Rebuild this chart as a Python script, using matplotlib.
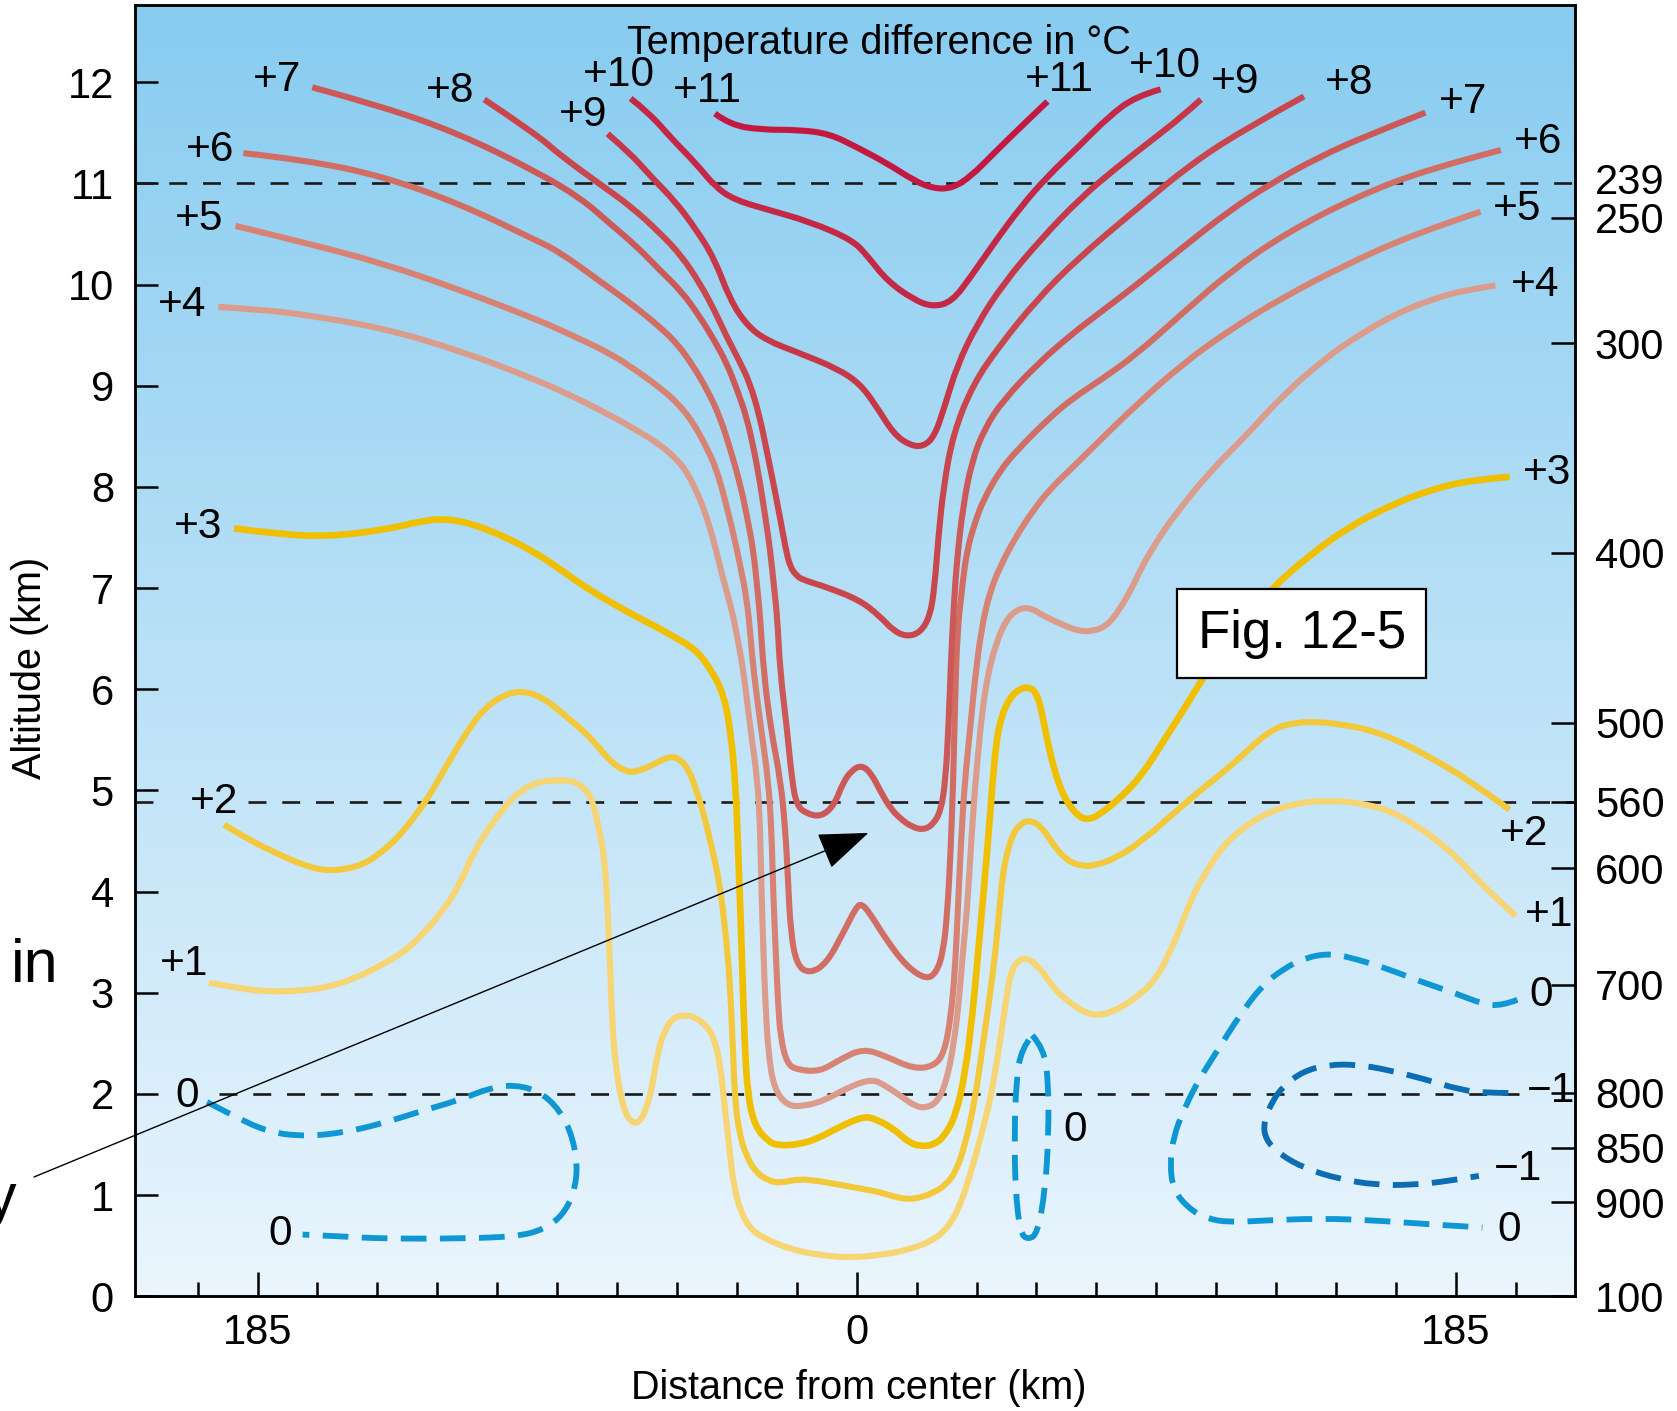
import numpy as np
import matplotlib
matplotlib.use("Agg")
import matplotlib.pyplot as plt
from matplotlib.colors import LinearSegmentedColormap
from matplotlib.patches import Rectangle, PathPatch
from matplotlib.path import Path

plt.rcParams['font.family'] = ['Liberation Sans', 'DejaVu Sans']

# ---------------- isotherms: (distance from center km, altitude km) ----------------
iso_p11 = [(-43.8, 11.69), (-39.1, 11.58), (-29.6, 11.53), (-17.8, 11.53), (-8.4, 11.49), (-0.1, 11.36),
           (9.3, 11.20), (17.6, 11.03), (23.5, 10.95), (29.4, 10.95), (35.3, 11.07), (42.4, 11.30),
           (50.7, 11.56), (58.9, 11.81)]

iso_p10 = [(-69.8, 11.84), (-63.9, 11.69), (-56.8, 11.43), (-49.7, 11.20), (-43.8, 10.97), (-37.9, 10.84),
           (-28.5, 10.75), (-14.3, 10.62), (-1.3, 10.44), (3.4, 10.28), (9.3, 10.04), (17.6, 9.85),
           (23.5, 9.78), (29.4, 9.83), (35.3, 10.08), (42.4, 10.41), (50.7, 10.77), (58.9, 11.07),
           (68.4, 11.36), (77.8, 11.66), (86.1, 11.86), (93.8, 11.93)]

iso_p9 = [(-76.9, 11.49), (-70, 11.3), (-63.9, 11.08), (-56, 10.82), (-49.7, 10.55), (-44, 10.26),
          (-39.1, 9.85), (-34, 9.6), (-28, 9.45), (-17.5, 9.32), (-6, 9.17), (1, 9.02), (6, 8.8),
          (11.5, 8.52), (16.5, 8.41), (20.6, 8.40), (24, 8.5), (27, 8.78), (31, 9.2), (37, 9.6),
          (45.3, 10.01), (56.6, 10.44), (68.9, 10.85), (80, 11.15), (92, 11.45), (100, 11.65), (106.3, 11.83)]

iso_p8 = [(-115.0, 11.83), (-99.1, 11.49), (-91.6, 11.28), (-79.2, 10.99), (-70, 10.78), (-60.7, 10.51),
          (-54, 10.28), (-48.4, 10.01), (-44, 9.75), (-40.1, 9.48), (-36.3, 9.25), (-32.9, 9.02),
          (-30, 8.7), (-27.8, 8.36), (-25.7, 8.03), (-23.7, 7.70), (-22, 7.4), (-20.6, 7.21),
          (-18.5, 7.12), (-16.5, 7.08), (-9.3, 7.01), (1.0, 6.88), (7.2, 6.72), (11.3, 6.58),
          (15.4, 6.52), (19.6, 6.56), (22.6, 6.72), (24, 7.0), (25.2, 7.5), (26.8, 8.0), (29.8, 8.53),
          (36.0, 9.02), (44.2, 9.4), (55.6, 9.85), (68, 10.25), (86.5, 10.75), (103.5, 11.2),
          (120.5, 11.55), (138.1, 11.86)]

iso_p7 = [(-168.1, 11.95), (-146.3, 11.76), (-122.7, 11.49), (-99.1, 11.12), (-85, 10.85), (-76.1, 10.6),
          (-68, 10.38), (-60.7, 10.14), (-54, 9.93), (-48.4, 9.68), (-44, 9.45), (-40.1, 9.22),
          (-36.8, 8.95), (-34, 8.69), (-31.6, 8.35), (-29.8, 8.03), (-28.2, 7.7), (-26.7, 7.37),
          (-25.5, 7.0), (-24.5, 6.7), (-23.7, 6.19), (-21.5, 5.6), (-20, 5.1), (-18.5, 4.85),
          (-15.5, 4.77), (-11, 4.74), (-7, 4.85), (-4.2, 5.08), (-1.5, 5.2), (1.5, 5.25), (4.5, 5.17),
          (7.5, 4.98), (10.5, 4.82), (13.5, 4.72), (17, 4.64), (20.5, 4.61), (23.5, 4.66), (26.0, 4.8),
          (27.4, 5.1), (28.3, 5.6), (29.0, 6.2), (29.9, 6.8), (31, 7.3), (32.8, 7.8), (35.5, 8.25),
          (39.5, 8.58), (45.3, 8.86), (56, 9.22), (66, 9.5), (75, 9.72), (86.5, 10.0), (100, 10.35),
          (115, 10.73), (128, 11.0), (142, 11.25), (158, 11.48), (175.6, 11.70)]

iso_p6 = [(-189.4, 11.30), (-169.9, 11.23), (-146.3, 11.07), (-122.7, 10.80), (-99.1, 10.44),
          (-91.6, 10.32), (-79.2, 10.03), (-70, 9.82), (-60.7, 9.58), (-55, 9.40), (-50.4, 9.19),
          (-46, 8.95), (-42.2, 8.69), (-39, 8.37), (-36.0, 8.03), (-33.8, 7.7), (-31.9, 7.37),
          (-30.7, 7.0), (-29.8, 6.71), (-28.8, 6.19), (-26.5, 5.6), (-23.5, 5.1), (-22, 4.6),
          (-21.2, 4.1), (-20.4, 3.6), (-18.5, 3.27), (-14.5, 3.19), (-9.3, 3.29), (-4.2, 3.59),
          (-0.1, 3.85), (1.5, 3.88), (4.0, 3.79), (9.2, 3.52), (15.4, 3.26), (21.5, 3.13), (24.6, 3.2),
          (26.7, 3.4), (28.0, 3.8), (29.0, 4.4), (29.8, 5.1), (30.3, 5.8), (31.0, 6.55), (32.5, 7.0),
          (34.0, 7.37), (36.5, 7.65), (39.1, 7.87), (44, 8.15), (49.4, 8.36), (59.7, 8.69), (66.9, 8.88),
          (75, 9.05), (86, 9.3), (100, 9.7), (115, 10.12), (132, 10.5), (155, 10.88), (177.3, 11.15),
          (198.9, 11.33)]

iso_p5 = [(-191.8, 10.58), (-169.9, 10.41), (-146.3, 10.21), (-122.7, 9.95), (-99.1, 9.66), (-88, 9.5),
          (-76.1, 9.32), (-68, 9.15), (-60.7, 8.98), (-55, 8.82), (-50.4, 8.63), (-46.5, 8.4),
          (-43.2, 8.17), (-40.5, 7.85), (-38.1, 7.54), (-35.8, 7.2), (-33.9, 6.88), (-32.7, 6.5),
          (-31.9, 6.19), (-29.5, 5.6), (-27.3, 5.1), (-26.3, 4.6), (-25.8, 4.0), (-25.0, 3.4),
          (-24.3, 2.9), (-23.5, 2.55), (-21.5, 2.3), (-18.6, 2.24), (-11.4, 2.22), (-5.2, 2.34),
          (2.0, 2.45), (9.2, 2.37), (17.4, 2.25), (23.6, 2.27), (27.0, 2.4), (29.0, 2.75), (30.3, 3.2),
          (31.2, 3.8), (32.2, 4.5), (33.4, 5.1), (35.0, 5.6), (36.5, 6.1), (38.5, 6.6), (41, 6.95),
          (44.2, 7.21), (49, 7.5), (54.5, 7.77), (60, 7.99), (66.9, 8.2), (75.1, 8.46), (86, 8.8),
          (100, 9.2), (115, 9.55), (132, 9.88), (150, 10.18), (172, 10.5), (192.6, 10.72)]

iso_p4 = [(-197.1, 9.78), (-183, 9.75), (-169.9, 9.70), (-146.3, 9.57), (-122.7, 9.35), (-99.1, 9.06),
          (-88, 8.9), (-79.2, 8.76), (-70, 8.6), (-60.7, 8.42), (-55.5, 8.27), (-52.5, 8.15),
          (-49, 7.93), (-46.3, 7.70), (-44, 7.45), (-42.2, 7.21), (-40, 6.95), (-38.1, 6.72),
          (-36.5, 6.45), (-35.0, 6.19), (-32.8, 5.6), (-30.6, 5.1), (-29.8, 4.6), (-29.4, 4.0),
          (-28.8, 3.4), (-28.2, 2.9), (-27.3, 2.4), (-25.5, 2.05), (-21.4, 1.88), (-16, 1.88),
          (-9.6, 1.94), (-3, 2.06), (4.6, 2.15), (9, 2.08), (14.0, 1.97), (18, 1.88), (21.2, 1.86),
          (25.0, 1.92), (28.0, 2.15), (30.2, 2.55), (31.5, 2.9), (32.8, 3.4), (34.0, 3.8), (35.2, 4.4),
          (36.2, 4.9), (37.3, 5.3), (38.6, 5.75), (40.5, 6.15), (43, 6.45), (46, 6.68), (49.5, 6.79),
          (53.5, 6.81), (58, 6.72), (63.4, 6.64), (68, 6.58), (72.3, 6.57), (77, 6.62), (81, 6.78),
          (85, 7.0), (88.0, 7.21), (93, 7.48), (97.9, 7.71), (109, 8.15), (120, 8.5), (132, 8.92),
          (145, 9.28), (155, 9.5), (167, 9.72), (177.3, 9.85), (188, 9.95), (197.2, 9.99)]

iso_p3 = [(-192.3, 7.59), (-178, 7.53), (-162.8, 7.51), (-145, 7.58), (-135, 7.66), (-126.2, 7.69),
          (-115, 7.6), (-100.2, 7.375), (-90, 7.15), (-82.5, 6.98), (-70, 6.75), (-62, 6.62),
          (-56.5, 6.52), (-50, 6.4), (-45.5, 6.22), (-41.1, 5.96), (-38.8, 5.56), (-37.3, 5.0),
          (-36.6, 4.4), (-35.8, 3.7), (-35.2, 3.1), (-34.6, 2.5), (-33.7, 2.0), (-31.5, 1.68),
          (-27, 1.52), (-23.7, 1.49), (-18, 1.5), (-11.9, 1.56), (-5, 1.68), (2.2, 1.78), (6, 1.75),
          (11.7, 1.65), (16, 1.52), (20.0, 1.48), (24, 1.5), (27.0, 1.58), (30.5, 1.78), (33.5, 2.2),
          (35.8, 2.8), (37.5, 3.4), (39.2, 4.0), (40.8, 4.6), (42, 5.1), (43, 5.45), (44.5, 5.72),
          (47.3, 5.92), (50.5, 6.01), (53.5, 6.02), (55.5, 5.96), (57, 5.8), (58.5, 5.55), (60.2, 5.3),
          (62.5, 5.05), (65, 4.88), (68.5, 4.74), (71.5, 4.71), (75, 4.76), (81.9, 4.94), (88, 5.15),
          (94.2, 5.46), (101, 5.8), (109.0, 6.22), (118, 6.62), (127.5, 6.98), (140, 7.33),
          (152.2, 7.61), (165, 7.82), (176.9, 7.97), (190, 8.07), (201.6, 8.10)]

iso_p2 = [(-195.3, 4.66), (-187, 4.5), (-179.3, 4.38), (-170, 4.25), (-162.8, 4.2), (-153.3, 4.25),
          (-147, 4.38), (-141.5, 4.54), (-136.5, 4.74), (-132.1, 4.94), (-128, 5.17), (-123.8, 5.40),
          (-119.5, 5.62), (-115.5, 5.79), (-110, 5.93), (-103.7, 5.99), (-97, 5.92), (-90.7, 5.76),
          (-86, 5.63), (-82.5, 5.53), (-78.5, 5.38), (-75.4, 5.27), (-71.5, 5.19), (-68.3, 5.18),
          (-63, 5.25), (-58.5, 5.33), (-55.5, 5.33), (-52, 5.22), (-49.5, 5.0), (-47.0, 4.74),
          (-44.5, 4.4), (-42.3, 4.08), (-40.5, 3.6), (-39.2, 3.13), (-38.3, 2.5), (-37.6, 1.94),
          (-36.2, 1.6), (-34, 1.38), (-31, 1.22), (-27, 1.14), (-23.7, 1.12), (-17.8, 1.16),
          (-11.9, 1.14), (-4.8, 1.10), (2, 1.06), (7.0, 1.03), (11, 0.99), (15.2, 0.96), (19, 0.97),
          (23.5, 1.02), (27.5, 1.1), (30.6, 1.23), (33.5, 1.5), (36.5, 1.94), (38.8, 2.45), (41.2, 2.99),
          (42.8, 3.4), (44, 3.8), (45, 4.15), (46.5, 4.4), (48.4, 4.58), (50.4, 4.66), (52.5, 4.7),
          (54.5, 4.69), (56.5, 4.65), (58.6, 4.57), (61, 4.45), (64.8, 4.31), (69.5, 4.25), (74, 4.26),
          (80.6, 4.34), (88, 4.5), (96.7, 4.74), (106, 5.0), (115.2, 5.23), (127.5, 5.60), (135, 5.67),
          (142.3, 5.68), (150, 5.65), (158.4, 5.60), (168, 5.48), (176.9, 5.33), (189.2, 5.10),
          (201.6, 4.81)]

iso_p1 = [(-200, 3.10), (-190, 3.04), (-181.7, 3.01), (-172, 3.02), (-164, 3.05), (-155, 3.14),
          (-146.3, 3.28), (-140, 3.4), (-134.5, 3.56), (-128, 3.8), (-122.7, 4.06), (-117.9, 4.42),
          (-112, 4.7), (-106.1, 4.94), (-100, 5.07), (-94.3, 5.10), (-89, 5.1), (-86.0, 5.07),
          (-83, 4.98), (-81.3, 4.87), (-79.4, 4.6), (-77.8, 4.3), (-77.0, 3.9), (-76.2, 3.3),
          (-75.5, 2.7), (-74.5, 2.3), (-72.8, 1.95), (-70.5, 1.74), (-67.4, 1.70), (-64.8, 1.86),
          (-63, 2.1), (-61.5, 2.4), (-59.5, 2.62), (-56.5, 2.76), (-53, 2.78), (-50, 2.76), (-46.5, 2.68),
          (-44, 2.55), (-42.2, 2.3), (-41, 1.95), (-39.5, 1.5), (-38, 1.1), (-36, 0.85), (-33, 0.67),
          (-28.5, 0.57), (-20, 0.46), (-11.9, 0.41), (-2.5, 0.38), (8, 0.41), (16, 0.46), (23.5, 0.55),
          (28.2, 0.68), (32, 0.9), (35.3, 1.23), (38.5, 1.6), (41.2, 1.94), (43.2, 2.3), (44.8, 2.64),
          (46.2, 2.95), (47.5, 3.2), (50, 3.33), (53.0, 3.34), (56, 3.26), (58.9, 3.14), (61.5, 3.02),
          (64.8, 2.93), (68.5, 2.84), (72, 2.79), (74.3, 2.78), (78, 2.8), (83, 2.88), (88, 3.0),
          (92, 3.12), (96, 3.35), (100, 3.65), (104, 3.98), (108, 4.2), (113, 4.45), (120, 4.65),
          (128, 4.8), (137, 4.88), (145, 4.90), (155, 4.88), (164.7, 4.8), (173, 4.65), (181, 4.46),
          (187, 4.28), (191, 4.14), (197, 3.95), (203.4, 3.76)]

iso_0_left = [(-200.6, 1.92), (-193.5, 1.80), (-181.7, 1.62), (-169.9, 1.58), (-158.1, 1.62),
              (-146.3, 1.71), (-134.5, 1.83), (-122.7, 1.94), (-113.2, 2.06), (-106.2, 2.09),
              (-99.1, 2.04), (-93.2, 1.90), (-88.4, 1.65), (-86.1, 1.30), (-87.3, 1.02), (-90.8, 0.80),
              (-96.7, 0.66), (-105.0, 0.59), (-122.7, 0.57), (-146.3, 0.57), (-158.1, 0.59), (-171.1, 0.61)]

iso_0_eye = [(54.2, 2.58), (57.8, 2.45), (59.2, 2.11), (59.2, 1.58), (58.2, 1.05), (55.8, 0.62),
             (53.0, 0.56), (50.5, 0.62), (49.0, 1.05), (48.7, 1.58), (49.2, 2.11), (50.8, 2.45), (54.2, 2.58)]

iso_0_right = [(204.0, 2.93), (198.9, 2.87), (193.2, 2.89), (185.3, 2.99), (175.0, 3.10), (163.7, 3.24),
               (154.6, 3.33), (146.6, 3.39), (138.7, 3.35), (131.9, 3.24), (125.1, 3.07), (118.3, 2.78),
               (111.4, 2.43), (105.8, 2.15), (101.2, 1.86), (97.8, 1.58), (96.7, 1.30), (97.8, 1.05),
               (102.4, 0.87), (108.0, 0.77), (114.8, 0.73), (126.2, 0.75), (143.2, 0.77), (160.3, 0.75),
               (177.3, 0.71), (193.2, 0.68)]

iso_m1_right = [(201.2, 2.01), (194.3, 2.01), (186.4, 2.04), (175.0, 2.15), (163.7, 2.24), (154.6, 2.29),
                (145.5, 2.29), (137.6, 2.22), (131.9, 2.08), (128.5, 1.94), (125.6, 1.72), (126.2, 1.55),
                (130.7, 1.40), (138.7, 1.26), (148.9, 1.16), (160.3, 1.10), (171.6, 1.10), (183.0, 1.14),
                (192.1, 1.19)]

# contour labels: (text, distance km, altitude km)
labels_left = [('+7', -178.9, 12.02), ('+8', -125.4, 11.91), ('+10', -73.3, 12.07), ('+9', -84.5, 11.68),
               ('+11', -46.2, 11.91), ('+6', -199.7, 11.33), ('+5', -203.0, 10.65), ('+4', -208.3, 9.80),
               ('+3', -203.3, 7.60), ('+2', -198.3, 4.89), ('+1', -207.6, 3.28), ('0', -206.6, 1.98),
               ('0', -177.9, 0.62)]
labels_right = [('+11', 62.7, 12.02), ('+10', 95.0, 12.16), ('+9', 116.8, 12.0), ('+8', 152.1, 11.99),
                ('+7', 187.1, 11.80), ('+6', 210.5, 11.41), ('+5', 203.9, 10.75), ('+4', 209.5, 10.0),
                ('+3', 213.2, 8.14), ('+2', 206.2, 4.57), ('+1', 213.8, 3.77), ('0', 211.2, 2.98),
                ('\u22121', 214.5, 2.03), ('0', 67.3, 1.64), ('\u22121', 204.3, 1.26), ('0', 201.3, 0.66)]

# axis scales
alt_ticks = list(range(0, 13))
dist_ticks = [-185, 0, 185]
dist_ticklabels = ['185', '0', '185']
press_alt = [10.66, 9.42, 7.35, 5.67, 4.89, 4.23, 3.08, 2.01, 1.47, 0.93, 0.0]
press_lbl = ['250', '300', '400', '500', '560', '600', '700', '800', '850', '900', '100']
tropo_alt = 11.05
tropo_lbl = '239'

X0, X1 = -222.9, 221.9
ZTOP = 12.76

warm = {'+11': '#C3183F', '+10': '#C42844', '+9': '#C63848', '+8': '#C8464C', '+7': '#CC5858',
        '+6': '#D26D63', '+5': '#D78273', '+4': '#DC9C8B', '+3': '#F0C000', '+2': '#F3C83A',
        '+1': '#F6D572'}
c_zero = '#0E97D3'
c_minus = '#0B6DB3'

fig = plt.figure(figsize=(16.77, 14.11), dpi=100)
ax = fig.add_axes([0.0804, 0.0813, 0.859, 0.9149])

sky = LinearSegmentedColormap.from_list('sky', ['#EAF5FD', '#88CCF0'])
ax.imshow(np.linspace(0, 1, 256).reshape(-1, 1), extent=[X0, X1, 0, ZTOP], origin='lower',
          aspect='auto', cmap=sky, zorder=0, interpolation='bilinear')

# dashed reference levels (239, 560 and 800 hPa)
ref_style = dict(color='#1a1a1a', lw=1.9, ls=(0, (6.8, 6.0)), zorder=2)
ax.plot([X0, X1], [11.0, 11.0], **ref_style)
ax.plot([X0, -216], [4.89, 4.89], **ref_style)
ax.plot([-188, X1], [4.89, 4.89], **ref_style)
ax.plot([-197, 204.5], [2.0, 2.0], **ref_style)


def draw(pts, color, lw=4.4, dashed=False):
    verts = [pts[0]]
    codes = [Path.MOVETO]
    n = len(pts)
    for i in range(1, n - 1):
        end = pts[n - 1] if i == n - 2 else ((pts[i][0] + pts[i + 1][0]) / 2, (pts[i][1] + pts[i + 1][1]) / 2)
        verts += [pts[i], end]
        codes += [Path.CURVE3, Path.CURVE3]
    if n == 2:
        verts.append(pts[1])
        codes.append(Path.LINETO)
    patch = PathPatch(Path(verts, codes), fill=False, edgecolor=color, lw=lw, zorder=3,
                      joinstyle='round', capstyle='butt')
    if dashed:
        patch.set_linestyle((0, (4.4, 2.3)))
    ax.add_patch(patch)


draw(iso_p1, warm['+1'])
draw(iso_p2, warm['+2'])
draw(iso_p3, warm['+3'], lw=4.8)
draw(iso_p4, warm['+4'])
draw(iso_p5, warm['+5'])
draw(iso_p6, warm['+6'])
draw(iso_p7, warm['+7'])
draw(iso_p8, warm['+8'])
draw(iso_p9, warm['+9'])
draw(iso_p10, warm['+10'])
draw(iso_p11, warm['+11'])
draw(iso_0_left, c_zero, lw=4.2, dashed=True)
draw(iso_0_eye, c_zero, lw=4.2, dashed=True)
draw(iso_0_right, c_zero, lw=4.2, dashed=True)
draw(iso_m1_right, c_minus, lw=4.2, dashed=True)

for txt, xx, zz in labels_left + labels_right:
    ax.text(xx, zz, txt, fontsize=30.5, ha='center', va='center', zorder=4)

ax.text(6.9, 12.39, 'Temperature difference in \u00b0C', fontsize=28.5, ha='center', va='center', zorder=4)

# figure tag
ax.add_patch(Rectangle((99.0, 6.11), 76.9, 0.88, facecolor='white', edgecolor='black', lw=1.6, zorder=5))
ax.text(137.5, 6.55, 'Fig. 12-5', fontsize=38, ha='center', va='center', zorder=6)

ax.set_xlim(X0, X1)
ax.set_ylim(0, ZTOP)
ax.set_yticks(alt_ticks)
ax.set_xticks(dist_ticks)
ax.set_xticklabels(dist_ticklabels)
ax.set_xticks(np.arange(-203.5, 204, 18.5), minor=True)
ax.tick_params(axis='y', direction='in', length=16.5, width=1.8, labelsize=30, pad=15)
ax.tick_params(axis='x', which='major', direction='in', length=17, width=1.8, labelsize=30, pad=12)
ax.tick_params(axis='x', which='minor', direction='in', length=10.3, width=1.8)
for s in ax.spines.values():
    s.set_linewidth(1.8)

ax2 = ax.twinx()
ax2.set_ylim(0, ZTOP)
ax2.set_yticks(press_alt)
ax2.set_yticklabels(press_lbl)
ax2.set_yticks([tropo_alt], minor=True)
ax2.set_yticklabels([tropo_lbl], minor=True)
ax2.tick_params(axis='y', which='major', direction='in', length=17, width=1.8, labelsize=30, pad=14)
ax2.tick_params(axis='y', which='minor', direction='in', length=0, labelsize=30, pad=14)
for s in ax2.spines.values():
    s.set_linewidth(1.8)

ax.set_xlabel('Distance from center (km)', fontsize=28.5)
ax.xaxis.label.set_va('center')
ax.xaxis.set_label_coords(0.5027, -0.071)
ax.set_ylabel('Altitude (km)', fontsize=28.5)
ax.yaxis.label.set_va('center')
ax.yaxis.label.set_ha('center')
ax.yaxis.set_label_coords(-0.0727, 0.4867)

# pieces of the surrounding slide
fig.text(11 / 1677, 1 - 982 / 1411, 'in', fontsize=44, ha='left', va='baseline')
fig.text(16 / 1677, 1 - 1172 / 1411, 'y', fontsize=44, ha='right', va='top')
ax.annotate('', xy=(3.6, 4.58), xycoords='data', xytext=(34 / 1677, 1 - 1177 / 1411),
            textcoords='figure fraction', annotation_clip=False,
            arrowprops=dict(arrowstyle='-|>,head_length=1.6,head_width=0.6', color='black', lw=1.0,
                            mutation_scale=20, shrinkA=0, shrinkB=0), zorder=6)

fig.savefig('out.png', dpi=100)
